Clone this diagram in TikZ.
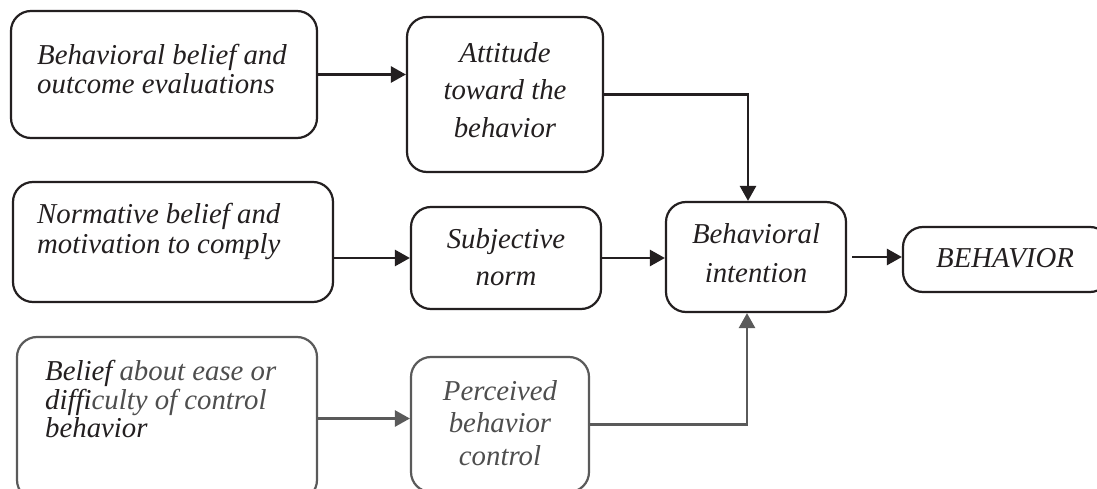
\documentclass[tikz,border=0pt]{standalone}
\usepackage{fontspec}
\setmainfont{Liberation Serif}
\usetikzlibrary{arrows.meta}
\definecolor{ink}{HTML}{231F20}
\definecolor{fade}{HTML}{5A5A5A}
\definecolor{fadetext}{HTML}{4E4E4E}
\tikzset{
  box/.style={draw=ink, line width=2.2pt, rounded corners=20pt, inner sep=0pt, fill=white},
  fbox/.style={box, draw=fade},
  lbl/.style={inner sep=0pt, text=ink, font=\fontsize{28.8}{#1}\selectfont\itshape},
  flbl/.style={lbl=#1, text=fadetext},
  arr/.style={draw=ink, line width=2.6pt, -{Triangle[length=15pt,width=16pt]}},
  farr/.style={arr, draw=fade},
}
\begin{document}
\begin{tikzpicture}[x=1pt,y=-1pt]
\useasboundingbox (0,0) rectangle (1097,489);
\fill[white] (0,0) rectangle (1097,489);
\clip (0,0) rectangle (1097,489);

% boxes
\node[box, minimum width=306pt, minimum height=127pt] (bb) at (164,74.5) {};
\node[box, minimum width=196pt, minimum height=155pt] (att) at (505,94.5) {};
\node[box, minimum width=320pt, minimum height=120pt] (nb) at (173,242) {};
\node[box, minimum width=190pt, minimum height=102pt] (sn) at (506,258) {};
\node[box, minimum width=180pt, minimum height=110pt] (bi) at (756,257) {};
\node[box, minimum width=207pt, minimum height=65pt] (beh) at (1006.5,259.5) {};
\node[fbox, minimum width=300pt, minimum height=163pt] (ez) at (167,418.5) {};
\node[fbox, minimum width=178pt, minimum height=135pt] (pbc) at (500,424.5) {};

% texts
\node[lbl=28.5, align=left, anchor=north west] (bbT) at (37,44.5) {Behavioral belief and\\outcome evaluations};
\node[lbl=37.5, align=center, anchor=north] (attT) at (505,42.3) {Attitude\\toward the\\behavior};
\node[lbl=29.5, align=left, anchor=north west] (nbT) at (37,203.3) {Normative belief and\\motivation to comply};
\node[lbl=37, align=center, anchor=north] (snT) at (506,228.3) {Subjective\\norm};
\node[lbl=39, align=center, anchor=north] (biT) at (756,223.3) {Behavioral\\intention};
\node[lbl=30, anchor=north] (behT) at (1005,248.2) {BEHAVIOR};
\node[flbl=28.5, align=left, anchor=north west] (ezT) at (45,360.3) {\textcolor{ink}{Belief} about ease or\\\textcolor{ink}{diffi}culty of control\\\textcolor{ink}{behavior}};
\node[flbl=32.5, align=center, anchor=north] (pbcT) at (500,380.3) {Perceived\\behavior\\control};

% connectors
\coordinate (biTop) at ([xshift=-8pt]bi.north);
\coordinate (biBot) at ([xshift=-9pt]bi.south);
\draw[arr] (bb.east) -- (bb.east -| att.west);
\draw[arr] (att.east) -| (biTop);
\draw[arr] (nb.east |- sn.west) -- (sn.west);
\draw[arr] (sn.east) -- (sn.east -| bi.west);
\draw[arr, shorten <=5pt] (bi.east) -- (bi.east -| beh.west);
\draw[farr] (ez.east) -- (ez.east -| pbc.west);
\draw[farr] (pbc.east) -| (biBot);
\end{tikzpicture}
\end{document}
